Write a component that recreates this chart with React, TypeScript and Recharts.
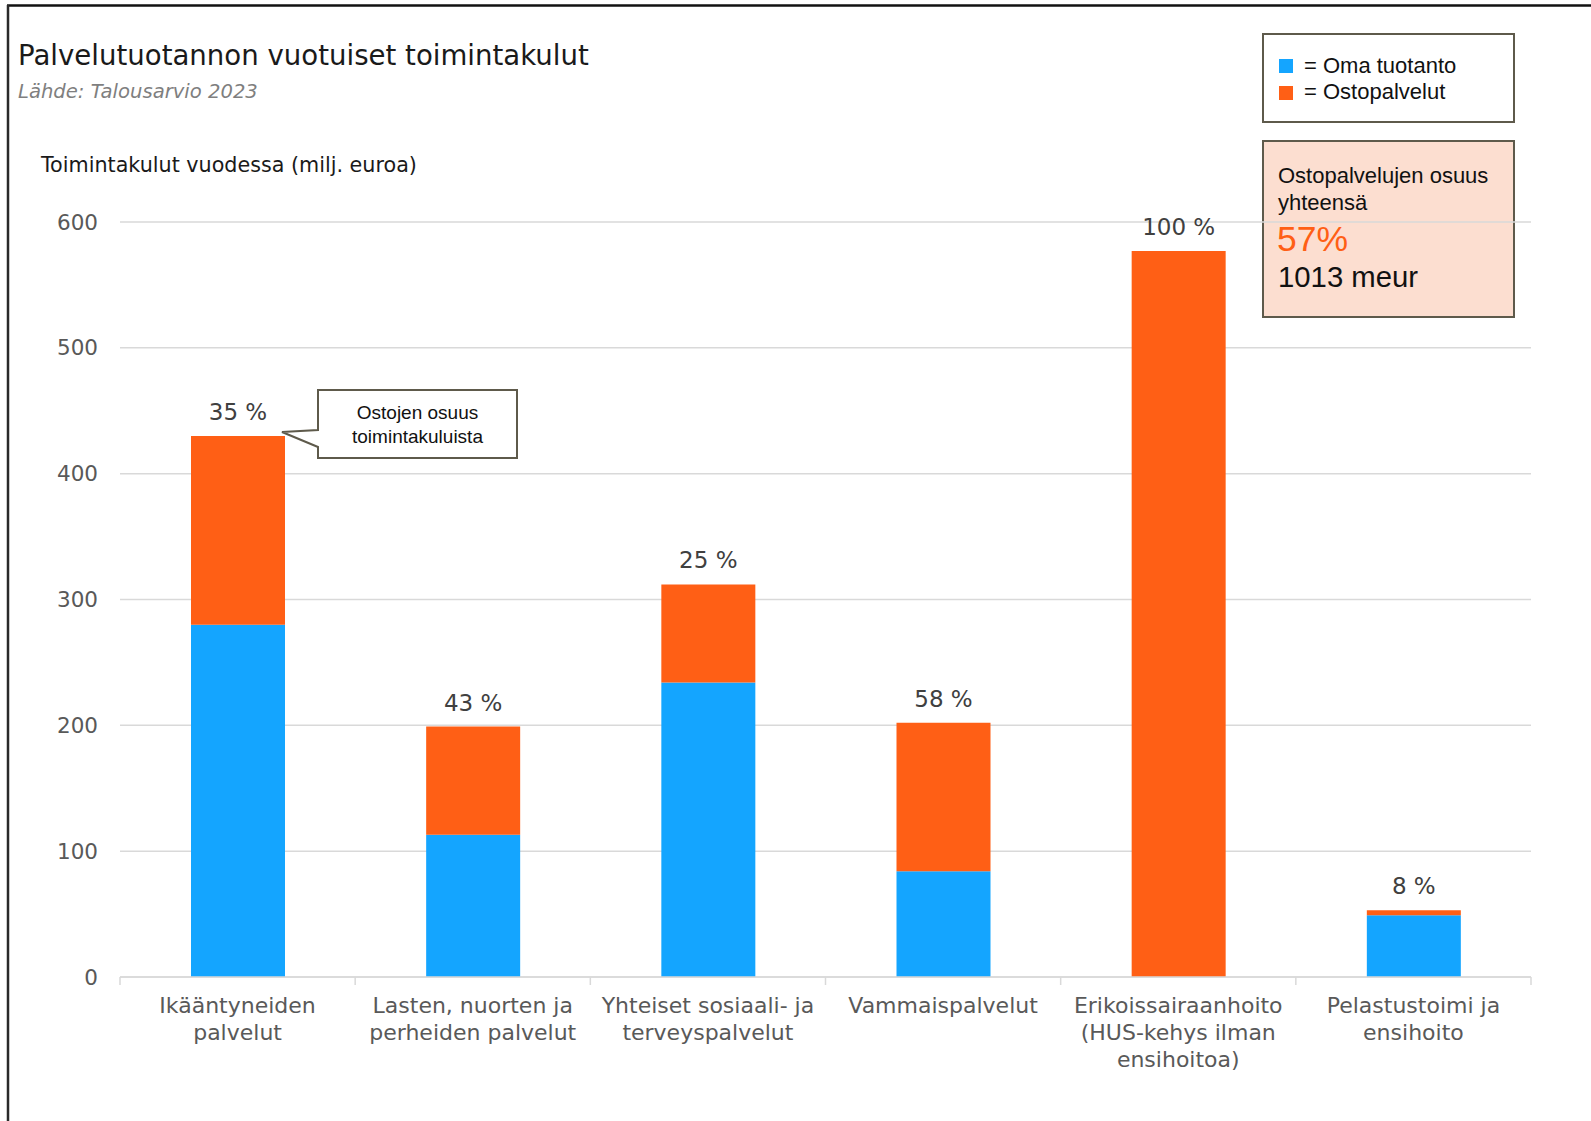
import React from 'react';
import { BarChart, Bar, XAxis, YAxis, CartesianGrid, LabelList } from 'recharts';

const categories = [
  'Ikääntyneiden\npalvelut',
  'Lasten, nuorten ja\nperheiden palvelut',
  'Yhteiset sosiaali- ja\nterveyspalvelut',
  'Vammaispalvelut',
  'Erikoissairaanhoito\n(HUS-kehys ilman\nensihoitoa)',
  'Pelastustoimi ja\nensihoito',
];
const omaTuotanto = [280, 113, 234, 84, 0, 49];
const ostopalvelut = [150, 86, 78, 118, 577, 4];
const ostoOsuus = ['35 %', '43 %', '25 %', '58 %', '100 %', '8 %'];
const yTicks = [0, 100, 200, 300, 400, 500, 600];

const data = categories.map((c, i) => ({
  name: c,
  oma: omaTuotanto[i],
  osto: ostopalvelut[i],
  pct: ostoOsuus[i],
}));

const W = 1591;
const H = 1121;
const PLOT_LEFT = 120;
const PLOT_RIGHT = 1531;
const PLOT_TOP = 222;
const PLOT_BOTTOM = 977;
const Y_AXIS_W = 60;
const X_AXIS_H = 100;
const BAND = (PLOT_RIGHT - PLOT_LEFT) / categories.length;

const BLUE = '#14A5FF';
const ORANGE = '#FF5F15';
const BOX_STROKE = '#5E5A4B';
const FONT = 'DejaVu Sans';
const ARIAL = 'Liberation Sans, Arial';

const XTick = (props: any) => {
  const { x, y, payload } = props;
  const lines = String(payload.value).split('\n');
  const isLast = payload.value === categories[categories.length - 1];
  return (
    <g>
      <line x1={x - BAND / 2} x2={x - BAND / 2} y1={y} y2={y + 8} stroke="#d9d9d9" strokeWidth={1.5} />
      {isLast && <line x1={x + BAND / 2} x2={x + BAND / 2} y1={y} y2={y + 8} stroke="#d9d9d9" strokeWidth={1.5} />}
      <text x={x} y={y} textAnchor="middle" fill="#595959" fontSize={22} fontFamily={FONT}>
        {lines.map((l, i) => (
          <tspan key={i} x={x} y={y + 36 + i * 27}>
            {l}
          </tspan>
        ))}
      </text>
    </g>
  );
};

const PctLabel = (props: any) => {
  const { x, y, width, value } = props;
  return (
    <text x={Number(x) + Number(width) / 2} y={Number(y) - 16} textAnchor="middle" fill="#404040" fontSize={23} fontFamily={FONT}>
      {value}
    </text>
  );
};

const Decorations = () => (
  <svg width={W} height={H} style={{ position: 'absolute', left: 0, top: 0 }}>
    <rect x={0} y={0} width={W} height={H} fill="#ffffff" />
    {/* frame */}
    <line x1={7} x2={W} y1={5.5} y2={5.5} stroke="#111" strokeWidth={2.5} />
    <line x1={8} x2={8} y1={5} y2={H} stroke="#2a2a2a" strokeWidth={2.5} />
    {/* titles */}
    <text x={18} y={65} fontSize={27.6} fontFamily={FONT} fill="#1a1a1a">
      Palvelutuotannon vuotuiset toimintakulut
    </text>
    <text x={18} y={98} fontSize={19.6} fontFamily={FONT} fontStyle="italic" fill="#7f7f7f">
      Lähde: Talousarvio 2023
    </text>
    <text x={41} y={172} fontSize={20.7} fontFamily={FONT} fill="#1a1a1a">
      Toimintakulut vuodessa (milj. euroa)
    </text>
    {/* legend box */}
    <rect x={1263} y={34} width={251} height={88} fill="#fff" stroke={BOX_STROKE} strokeWidth={2} />
    <rect x={1279} y={59} width={14} height={14} fill={BLUE} />
    <text x={1304} y={72.5} fontSize={22} fontFamily={ARIAL} fill="#111">= Oma tuotanto</text>
    <rect x={1279} y={86} width={14} height={14} fill={ORANGE} />
    <text x={1304} y={99} fontSize={22} fontFamily={ARIAL} fill="#111">= Ostopalvelut</text>
    {/* total box */}
    <rect x={1263} y={141} width={251} height={176} fill="#FCDED0" stroke={BOX_STROKE} strokeWidth={2} />
    <text x={1278} y={183} fontSize={22} fontFamily={ARIAL} fill="#111">Ostopalvelujen osuus</text>
    <text x={1278} y={210} fontSize={22} fontFamily={ARIAL} fill="#111">yhteensä</text>
    <text x={1277} y={251} fontSize={35.5} fontFamily={ARIAL} fill={ORANGE}>57%</text>
    <text x={1278} y={287} fontSize={29.3} fontFamily={ARIAL} fill="#111">1013 meur</text>
    {/* callout */}
    <path
      d="M318,390 L517,390 L517,458 L318,458 L318,447 L282,432 L318,430 Z"
      fill="#fff"
      stroke={BOX_STROKE}
      strokeWidth={2}
      strokeLinejoin="miter"
    />
    <text x={417.5} y={419} textAnchor="middle" fontSize={19} fontFamily={ARIAL} fill="#111">Ostojen osuus</text>
    <text x={417.5} y={443} textAnchor="middle" fontSize={19} fontFamily={ARIAL} fill="#111">toimintakuluista</text>
  </svg>
);

export default function App() {
  return (
    <div style={{ position: 'absolute', left: 0, top: 0, width: W, height: H, overflow: 'hidden' }}>
      <Decorations />
      <div style={{ position: 'absolute', left: 0, top: 0 }}>
        <BarChart
          width={W}
          height={H}
          data={data}
          margin={{
            top: PLOT_TOP,
            bottom: H - PLOT_BOTTOM - X_AXIS_H,
            left: PLOT_LEFT - Y_AXIS_W,
            right: W - PLOT_RIGHT,
          }}
        >
          <CartesianGrid vertical={false} stroke="#d9d9d9" strokeWidth={1.5} />
          <XAxis
            dataKey="name"
            interval={0}
            height={X_AXIS_H}
            tickSize={0}
            tickMargin={0}
            tickLine={false}
            axisLine={{ stroke: '#d9d9d9', strokeWidth: 1.5 }}
            tick={<XTick />}
          />
          <YAxis
            domain={[0, 600]}
            ticks={yTicks}
            width={Y_AXIS_W}
            axisLine={false}
            tickLine={false}
            tickSize={0}
            tickMargin={22}
            tick={{ fill: '#595959', fontSize: 21.5, fontFamily: FONT }}
          />
          <Bar dataKey="oma" stackId="a" fill={BLUE} barSize={94} isAnimationActive={false} />
          <Bar dataKey="osto" stackId="a" fill={ORANGE} barSize={94} isAnimationActive={false}>
            <LabelList dataKey="pct" content={PctLabel} />
          </Bar>
        </BarChart>
      </div>
    </div>
  );
}
